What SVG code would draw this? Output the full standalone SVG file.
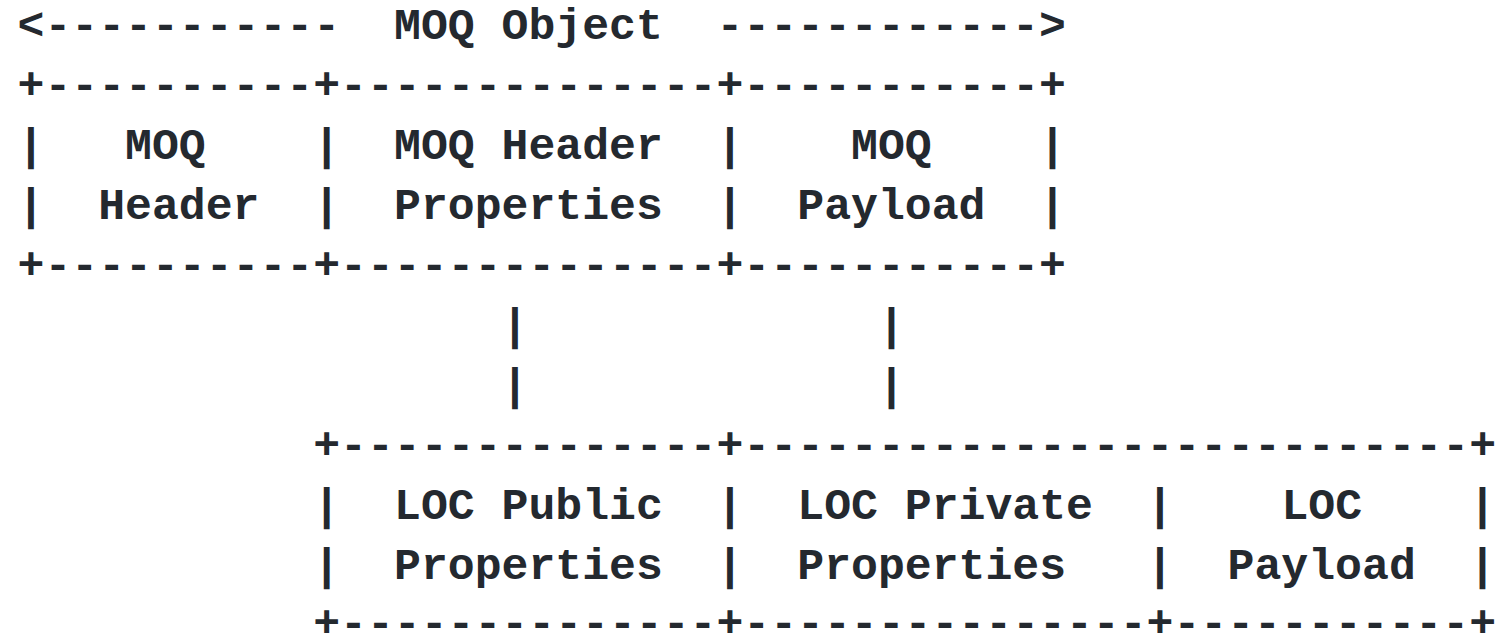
<svg xmlns="http://www.w3.org/2000/svg" width="1497" height="638" viewBox="0 0 1497 638">
<style>
text{font-family:"Liberation Mono","DejaVu Sans Mono",monospace;font-size:44.8px;font-weight:bold;fill:#24292f;white-space:pre}
</style>
<rect width="1497" height="638" fill="#ffffff"/>
<g id="moq-object-span">
<text x="17.5" y="39" xml:space="preserve">&lt;-----------</text>
<text x="394" y="39">MOQ Object</text>
<text x="716.4" y="39" xml:space="preserve">------------&gt;</text>
</g>
<g id="frames">
<text x="17.5" y="99" xml:space="preserve">+----------+--------------+-----------+</text>
<text x="17.5" y="159">|</text><text x="313.2" y="159">|</text><text x="716.4" y="159">|</text><text x="1039" y="159">|</text>
<text x="17.5" y="219">|</text><text x="313.2" y="219">|</text><text x="716.4" y="219">|</text><text x="1039" y="219">|</text>
<text x="17.5" y="279" xml:space="preserve">+----------+--------------+-----------+</text>
<text x="313.2" y="459" xml:space="preserve">+--------------+---------------------------+</text>
<text x="313.2" y="519">|</text><text x="716.4" y="519">|</text><text x="1146.5" y="519">|</text><text x="1469" y="519">|</text>
<text x="313.2" y="579">|</text><text x="716.4" y="579">|</text><text x="1146.5" y="579">|</text><text x="1469" y="579">|</text>
<text x="313.2" y="637" xml:space="preserve">+--------------+---------------+-----------+</text>
</g>
<g id="moq-header">
<text x="125" y="159">MOQ</text>
<text x="98.2" y="219">Header</text>
</g>
<g id="moq-header-properties">
<text x="394" y="159">MOQ Header</text>
<text x="394" y="219">Properties</text>
</g>
<g id="moq-payload">
<text x="851.1" y="159">MOQ</text>
<text x="797.3" y="219">Payload</text>
</g>
<g id="loc-public-properties">
<text x="394" y="519">LOC Public</text>
<text x="394" y="579">Properties</text>
</g>
<g id="loc-private-properties">
<text x="797.3" y="519">LOC Private</text>
<text x="797.3" y="579">Properties</text>
</g>
<g id="loc-payload">
<text x="1281.4" y="519">LOC</text>
<text x="1227.6" y="579">Payload</text>
</g>
<g id="connectors">
<text x="501.6" y="339">|</text>
<text x="501.6" y="399">|</text>
<text x="878.1" y="339">|</text>
<text x="878.1" y="399">|</text>
</g>
</svg>
